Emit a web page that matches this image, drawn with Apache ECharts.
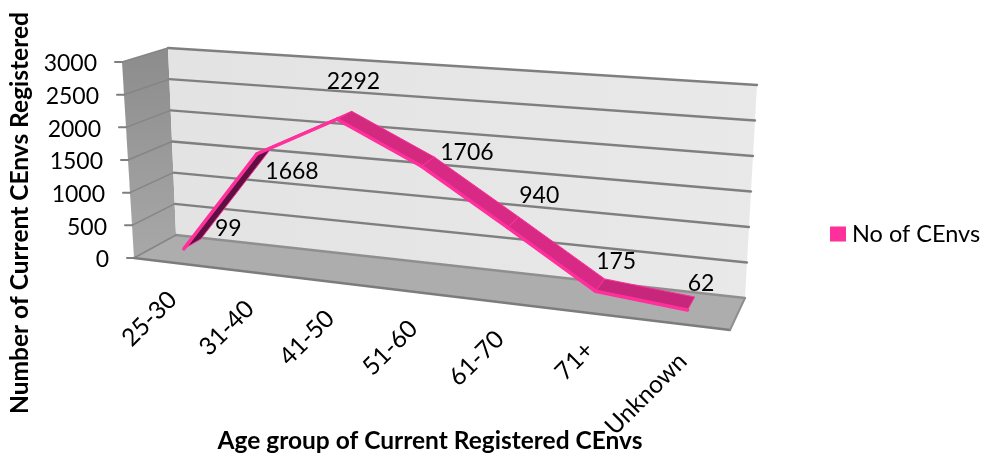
<!DOCTYPE html>
<html>
<head>
<meta charset="utf-8">
<style>
  html, body { margin: 0; padding: 0; background: #fff; }
  #chart { width: 985px; height: 453px; }
</style>
<script src="https://cdn.jsdelivr.net/npm/echarts@6/dist/echarts.min.js"></script>
</head>
<body>
<div id="chart"></div>
<script>
const categories = ['25-30', '31-40', '41-50', '51-60', '61-70', '71+', 'Unknown']
const values = [99, 1668, 2292, 1706, 940, 175, 62]
const yTicks = [0, 500, 1000, 1500, 2000, 2500, 3000]
const seriesName = 'No of CEnvs'
const xTitle = 'Age group of Current Registered CEnvs'
const yTitle = 'Number of Current CEnvs Registered'

const FONT = 'Lato, "Open Sans", sans-serif'
const PINK = '#ff2f9b'
const segmentColors = ['#5e1140', '#ff2f9b', '#d3297f', '#d82a85', '#d82a85', '#c7277a']
// excel puts the 3d labels by hand, so offset per point from the ribbon middle
const labelOffsets = [[36, -15], [27, 22], [9, -34], [39, -9], [26, -27], [16, -23], [10, -20]]

// corners of the 3d box on screen: f = front, b = back, l/r, bottom/top
const box = {
  flb: [134, 258], flt: [122, 62], frb: [730, 330], frt: [742, 107],
  blb: [176, 235], blt: [168, 48], brb: [745, 298], brt: [757, 85]
}
const PERSP_U = 1.14
const PERSP_D = 0.954
const RIBBON_FRONT = 0.3
const RIBBON_BACK = 0.72

const mix = (a, b, t) => [a[0] + (b[0] - a[0]) * t, a[1] + (b[1] - a[1]) * t]

// u along categories, v up the value axis, d from front to back, all 0..1
function project(u, v, d) {
  const s = u / ((1 - u) * PERSP_U + u)
  const t = d / (d + (1 - d) * PERSP_D)
  const front = mix(mix(box.flb, box.frb, s), mix(box.flt, box.frt, s), v)
  const back = mix(mix(box.blb, box.brb, s), mix(box.blt, box.brt, s), v)
  return mix(front, back, t)
}

// grid pixel -> normalised position, the axes stay the source of the scale
function norm(params, api, x, y) {
  const c = api.coord([x, y])
  const r = params.coordSys
  return [(c[0] - r.x) / r.width, (r.y + r.height - c[1]) / r.height]
}

const poly = (points, fill, stroke, lineWidth, z2) => ({
  type: 'polygon', z2: z2 || 0,
  shape: { points },
  style: { fill, stroke: stroke || null, lineWidth: lineWidth || 0, lineJoin: 'round' }
})
const line = (a, b, stroke, lineWidth, z2) => ({
  type: 'line', z2: z2 || 1,
  shape: { x1: a[0], y1: a[1], x2: b[0], y2: b[1] },
  style: { stroke, lineWidth, lineCap: 'round' }
})
const text = (x, y, str, extra) => ({
  type: 'text', x, y, z2: 20,
  rotation: extra.rotation || 0,
  style: {
    text: str, font: (extra.size || 23) + 'px ' + FONT, fill: '#000',
    align: extra.align || 'center', verticalAlign: 'middle'
  }
})

function renderFrame(params, api) {
  const children = []
  const GRID = '#7f7f7f'
  children.push(poly([box.blb, box.blt, box.flt, box.flb], new echarts.graphic.LinearGradient(0, 0, 0, 1, [
    { offset: 0, color: '#8c8c8c' }, { offset: 1, color: '#a8a8a8' }
  ])))
  children.push(poly([box.blb, box.blt, box.brt, box.brb], new echarts.graphic.LinearGradient(0, 0, 1, 0, [
    { offset: 0, color: '#e3e3e3' }, { offset: 1, color: '#e9e9e9' }
  ])))
  children.push(poly([box.flb, box.blb, box.brb, box.frb], '#adadad'))

  yTicks.forEach((tick, i) => {
    const v = norm(params, api, 0, tick)[1]
    const fl = project(0, v, 0)
    const bl = project(0, v, 1)
    const br = project(1, v, 1)
    children.push(line(bl, br, i === 0 ? '#8f8f8f' : GRID, 2.4))
    children.push(line(fl, bl, '#858585', 1.5))
    children.push(line([fl[0] - 7, fl[1]], fl, GRID, 2))
    children.push(text(fl[0] - 25, fl[1] + 2, String(tick), { align: 'right' }))
  })
  children.push(line(box.flb, box.frb, '#7c7c7c', 2.4))
  children.push(line(box.frb, box.brb, '#8f8f8f', 2))

  categories.forEach((cat, i) => {
    const u = norm(params, api, i, 0)[0]
    const p = project(u, 0, 0)
    children.push(text(p[0] + 1, p[1] + 33, cat, { align: 'right', rotation: Math.PI / 4, size: 24.5 }))
  })
  return { type: 'group', children }
}

function renderRibbon(params, api) {
  const i = params.dataIndex
  const children = []
  const n = norm(params, api, api.value(0), api.value(1))
  const front = project(n[0], n[1], RIBBON_FRONT)
  const back = project(n[0], n[1], RIBBON_BACK)
  const mid = mix(front, back, 0.5)
  const off = labelOffsets[i]
  children.push(text(mid[0] + off[0], mid[1] + off[1], String(values[i]), {}))
  if (i < values.length - 1) {
    const m = norm(params, api, i + 1, values[i + 1])
    const front2 = project(m[0], m[1], RIBBON_FRONT)
    const back2 = project(m[0], m[1], RIBBON_BACK)
    children.push(poly([front, front2, back2, back], segmentColors[i], PINK, 1, i))
    children.push(line(front, front2, PINK, 3.5, 10))
  }
  return { type: 'group', children }
}

const chart = echarts.init(document.getElementById('chart'))
chart.setOption({
  animation: false,
  backgroundColor: '#fff',
  textStyle: { fontFamily: FONT },
  grid: { left: 134, top: 62, width: 596, height: 196 },
  xAxis: { type: 'category', data: categories, show: false },
  yAxis: { type: 'value', min: 0, max: 3000, interval: 500, show: false },
  legend: {
    data: [seriesName],
    left: 830, top: 222,
    padding: 0,
    itemWidth: 16, itemHeight: 15, itemGap: 6,
    icon: 'rect',
    textStyle: { fontFamily: FONT, fontSize: 23.5, color: '#000', padding: [0, 0, 0, 1] }
  },
  graphic: [
    {
      type: 'text', x: 430, y: 441,
      style: { text: xTitle, font: 'bold 24.5px ' + FONT, fill: '#000', align: 'center', verticalAlign: 'middle' }
    },
    {
      type: 'text', x: 20, y: 213, rotation: Math.PI / 2,
      style: { text: yTitle, font: 'bold 24.5px ' + FONT, fill: '#000', align: 'center', verticalAlign: 'middle' }
    }
  ],
  series: [
    {
      type: 'custom', name: 'frame', silent: true, clip: false, z: 1,
      data: [[0, 0]],
      renderItem: renderFrame
    },
    {
      type: 'custom', name: seriesName, silent: true, clip: false, z: 2,
      itemStyle: { color: PINK },
      encode: { x: 0, y: 1 },
      data: values.map((v, i) => [i, v]),
      renderItem: renderRibbon
    }
  ]
})
</script>
</body>
</html>
